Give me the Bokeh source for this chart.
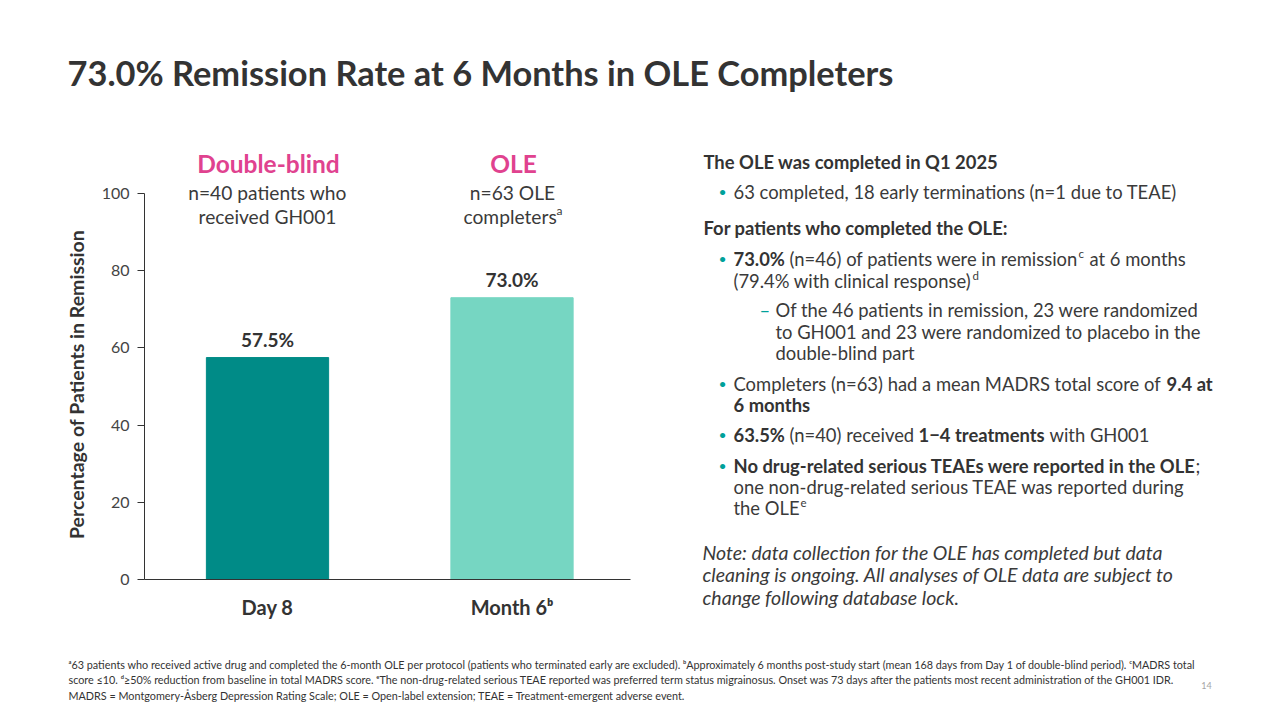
from bokeh.plotting import figure
from bokeh.models import Label, LabelSet, ColumnDataSource, Range1d, FixedTicker
from bokeh.core.properties import value
from bokeh.embed import file_html
from bokeh.resources import INLINE
import math

# ---------------- data ----------------
categories = ["Day 8", "Month 6ᵇ"]
remission_pct = [57.5, 73.0]
bar_colors = ["#008B87", "#76D6C2"]
y_ticks = [0, 20, 40, 60, 80, 100]

FONT = "Lato"
TXT = "#333333"
BODY = "#3A3A3A"
PINK = "#E0428F"
TEAL = "#00A19A"

W, H = 1264, 704
# layout calibration (canvas pixels)
X0, KX = 267.0, 244.5          # pixel of first category centre, pixels per category
Y0, KY = 579.0, 3.86           # pixel of value 0, pixels per percentage point
AX_LEFT, AX_RIGHT = 144.0, 630.0

idx = list(range(len(categories)))

p = figure(width=W, height=H, output_backend="svg", toolbar_location=None,
           x_range=Range1d(-X0 / KX, (W - X0) / KX),
           y_range=Range1d(-(H - Y0) / KY, Y0 / KY),
           min_border=0)
p.outline_line_color = None
p.grid.grid_line_color = None
p.background_fill_color = "white"
p.border_fill_color = "white"

src = ColumnDataSource(dict(x=idx, val=remission_pct, color=bar_colors,
                            lab=[f"{v:.1f}%" for v in remission_pct]))
p.vbar(x="x", top="val", width=0.5, color="color", source=src)

p.add_layout(LabelSet(x="x", y="val", text="lab", source=src, y_offset=18,
                      text_align="center", text_baseline="middle",
                      text_font=value(FONT), text_font_size="19px",
                      text_font_style="bold", text_color=TXT))

# axes
ya = p.yaxis[0]
ya.fixed_location = (AX_LEFT - X0) / KX
ya.bounds = (0, 100)
ya.ticker = FixedTicker(ticks=y_ticks)
ya.axis_line_color = "#333333"
ya.major_tick_line_color = "#333333"
ya.major_tick_out = 7
ya.major_tick_in = 0
ya.minor_tick_line_color = None
ya.major_label_text_font = FONT
ya.major_label_text_font_size = "16px"
ya.major_label_text_color = "#444444"
ya.major_label_standoff = 8

xa = p.xaxis[0]
xa.fixed_location = 0
xa.bounds = ((AX_LEFT - X0) / KX, (AX_RIGHT - X0) / KX)
xa.ticker = FixedTicker(ticks=idx)
xa.major_label_overrides = {i: c for i, c in zip(idx, categories)}
xa.axis_line_color = "#333333"
xa.major_tick_line_color = None
xa.minor_tick_line_color = None
xa.major_label_text_font = FONT
xa.major_label_text_font_size = "20px"
xa.major_label_text_font_style = "bold"
xa.major_label_text_color = TXT
xa.major_label_standoff = 9


def put(text, px, py, size, color=BODY, bold=False, italic=False, align="left",
        baseline="middle", angle=0.0):
    style = "normal"
    if bold and italic:
        style = "bold italic"
    elif bold:
        style = "bold"
    elif italic:
        style = "italic"
    p.add_layout(Label(x=px, y=H - py, x_units="screen", y_units="screen",
                       text=text, text_font=FONT, text_font_size=f"{size}px",
                       text_font_style=style, text_color=color, text_align=align,
                       text_baseline=baseline, angle=angle))


# title
put("73.0% Remission Rate at 6 Months in OLE Completers", 67, 72, 34.4, color=TXT, bold=True)

# y axis title
put("Percentage of Patients in Remission", 76, 384, 19.5, color=TXT, bold=True,
    align="center", angle=math.pi / 2)

# column headers
put("Double-blind", 268, 163, 24.5, color=PINK, bold=True, align="center")
put("n=40 patients who", 267, 192, 19.2, color=BODY, align="center")
put("received GH001", 267, 216, 19.2, color=BODY, align="center")
put("OLE", 513, 163, 24.5, color=PINK, bold=True, align="center")
put("n=63 OLE", 512, 192, 19.2, color=BODY, align="center")
put("completers", 463, 216, 19.2, color=BODY)
put("a", 556, 210, 12, color=BODY)

# right panel
S = 18.4
BS = 14
SUP = 11.5
put("The OLE was completed in Q1 2025", 703, 161, S, color=TXT, bold=True)
put("•", 718, 191, BS, color=TEAL)
put("63 completed, 18 early terminations (n=1 due to TEAE)", 733, 191, S)

put("For patients who completed the OLE:", 703, 227, S, color=TXT, bold=True)
put("•", 718, 258, BS, color=TEAL)
put("73.0%", 733, 258, S, color=TXT, bold=True)
put("(n=46) of patients were in remission", 789, 258, S)
put("c", 1078, 253, SUP)
put("at 6 months", 1089, 258, S)
put("(79.4% with clinical response)", 733, 280, S)
put("d", 972, 275, SUP)

put("–", 759, 309, S, color=TEAL)
put("Of the 46 patients in remission, 23 were randomized", 775, 309, S)
put("to GH001 and 23 were randomized to placebo in the", 775, 331, S)
put("double-blind part", 775, 352, S)

put("•", 718, 383, BS, color=TEAL)
put("Completers (n=63) had a mean MADRS total score of", 733, 383, S)
put("9.4 at", 1166, 383, S, color=TXT, bold=True)
put("6 months", 733, 404, S, color=TXT, bold=True)

put("•", 718, 434, BS, color=TEAL)
put("63.5%", 733, 434, S, color=TXT, bold=True)
put("(n=40) received", 789, 434, S)
put("1\u22124 treatments", 918, 434, S, color=TXT, bold=True)
put("with GH001", 1049, 434, S)

put("•", 718, 465, BS, color=TEAL)
put("No drug-related serious TEAEs were reported in the OLE", 733, 465, S, color=TXT, bold=True)
put(";", 1195, 465, S)
put("one non-drug-related serious TEAE was reported during", 733, 486, S)
put("the OLE", 733, 507, S)
put("e", 800, 502, SUP)

NI = 19.5
put("Note: data collection for the OLE has completed but data", 702, 552, NI, italic=True)
put("cleaning is ongoing. All analyses of OLE data are subject to", 702, 574, NI, italic=True)
put("change following database lock.", 702, 597, NI, italic=True)

# footnotes
F = 10.8
FC = "#333333"
put("ᵃ63 patients who received active drug and completed the 6-month OLE per protocol (patients who terminated early are excluded). "
    "ᵇApproximately 6 months post-study start (mean 168 days from Day 1 of double-blind period). ᶜMADRS total", 68, 664, F, color=FC)
put("score ≤10. ᵈ≥50% reduction from baseline in total MADRS score. ᵉThe non-drug-related serious TEAE reported was preferred term "
    "status migrainosus. Onset was 73 days after the patients most recent administration of the GH001 IDR.", 68, 679, F, color=FC)
put("MADRS = Montgomery-Åsberg Depression Rating Scale; OLE = Open-label extension; TEAE = Treatment-emergent adverse event.",
    68, 695, F, color=FC)
put("14", 1206, 685, 9, color="#A6A6A6", align="center")

open("out.html", "w").write(file_html(p, INLINE))
